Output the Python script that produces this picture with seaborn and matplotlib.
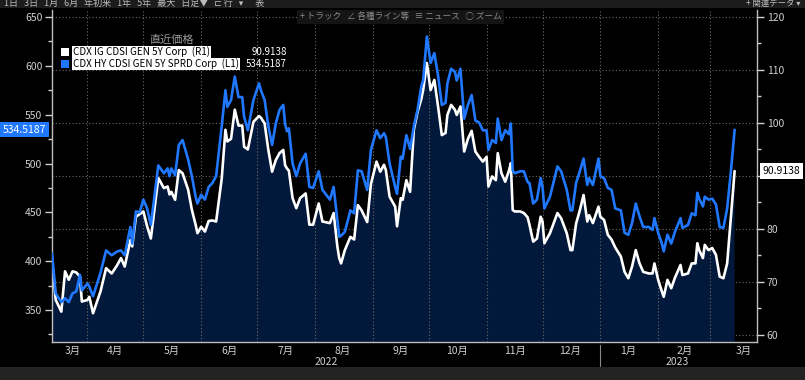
import matplotlib
matplotlib.use("Agg")
import matplotlib.pyplot as plt
import matplotlib.ticker as mticker
import matplotlib.transforms as mtrans
from matplotlib.patches import Rectangle
import pandas as pd
import seaborn as sns

# days counted from 2022-03-13
days = [0, 2, 5, 7, 9, 11, 13, 15, 16, 19, 20, 22, 26, 29, 32, 35, 37, 39, 42, 43,
        45, 47, 49, 51, 53, 57, 60, 62, 63, 64, 66, 68, 70, 73, 75, 77, 78, 80, 82, 84,
        86, 88, 91, 93, 94, 96, 98, 100, 102, 103, 105, 108, 111, 112, 114, 116, 118, 120, 122, 124,
        125, 126, 127, 129, 131, 133, 136, 138, 140, 143, 145, 149, 151, 153, 154, 155, 157, 160, 162, 164,
        166, 169, 171, 174, 176, 178, 179, 181, 184, 185, 187, 188, 190, 192, 194, 196, 198, 199, 201, 203,
        205, 207, 209, 211, 212, 214, 216, 217, 219, 221, 223, 225, 227, 229, 231, 233, 234, 236, 238, 239,
        241, 243, 245, 246, 247, 248, 251, 253, 255, 256, 258, 260, 262, 263, 264, 267, 271, 273, 276, 278,
        279, 281, 283, 285, 287, 288, 290, 293, 294, 296, 298, 300, 302, 305, 307, 309, 311, 313, 315, 317,
        320, 322, 323, 325, 327, 328, 330, 332, 334, 337, 338, 341, 343, 345, 346, 347, 349, 350, 352, 354,
        356, 358, 360, 362, 364, 366]

hy_spread = [408, 367, 358, 362, 358, 367, 369, 386, 370, 377, 374, 364, 388, 411, 406, 410, 411, 406, 435, 418,
             451, 450, 463, 454, 437, 498, 490, 495, 487, 495, 488, 519, 524, 504, 487, 466, 459, 468, 463, 476,
             480, 487, 538, 575, 558, 565, 589, 568, 568, 548, 534, 565, 582, 575, 565, 538, 519, 541, 555, 560,
             540, 533, 536, 500, 487, 500, 510, 476, 475, 492, 473, 463, 476, 442, 425, 426, 430, 452, 449, 493,
             492, 473, 514, 534, 526, 531, 527, 500, 476, 469, 507, 505, 529, 515, 538, 555, 579, 585, 630, 603,
             613, 590, 560, 562, 582, 597, 594, 585, 597, 546, 560, 570, 544, 542, 534, 534, 514, 524, 521, 546,
             524, 534, 530, 541, 493, 490, 492, 492, 481, 480, 459, 463, 485, 476, 454, 466, 497, 492, 473, 452,
             452, 480, 492, 505, 478, 485, 478, 505, 487, 485, 475, 473, 454, 452, 429, 427, 439, 459, 446, 435,
             435, 432, 444, 429, 418, 410, 427, 418, 430, 444, 434, 437, 449, 447, 470, 464, 456, 466, 463, 464,
             458, 435, 434, 454, 492, 534.5187]

ig_spread = [74.1, 66.6, 64.4, 72.0, 70.4, 72.0, 71.8, 71.0, 66.3, 66.6, 67.2, 64.1, 68.2, 72.6, 71.6, 73.2, 74.5, 72.9, 77.9, 76.7,
             82.3, 82.8, 83.3, 80.5, 78.2, 89.6, 87.7, 88.0, 86.5, 87.0, 85.5, 91.1, 90.5, 87.4, 83.6, 80.8, 79.2, 80.4, 79.5, 81.5,
             81.6, 81.4, 89.5, 98.7, 96.5, 97.0, 102.5, 99.5, 99.5, 95.5, 95.0, 100.2, 101.3, 101.0, 99.9, 94.9, 90.8, 93.0, 94.3, 94.9,
             92.0, 91.4, 91.0, 85.8, 83.9, 85.8, 86.7, 80.8, 80.8, 84.8, 81.4, 81.1, 83.0, 76.7, 74.5, 73.5, 76.0, 78.5, 78.0, 84.5,
             83.5, 81.3, 88.5, 92.7, 90.8, 92.1, 91.1, 86.1, 84.2, 80.5, 85.8, 85.5, 89.2, 87.0, 98.7, 102.1, 104.5, 106.2, 111.3, 106.2,
             108.1, 103.1, 97.7, 98.1, 101.5, 103.4, 102.5, 101.5, 103.1, 94.6, 97.0, 98.5, 94.6, 93.6, 92.7, 93.6, 88.0, 89.9, 89.2, 94.3,
             90.5, 88.9, 91.0, 92.4, 83.6, 83.3, 83.3, 83.0, 82.2, 80.8, 77.6, 78.2, 82.3, 81.4, 77.3, 79.2, 83.0, 82.0, 79.2, 76.0,
             76.0, 81.0, 83.5, 86.4, 81.4, 82.6, 81.1, 84.2, 82.3, 81.7, 78.9, 78.0, 76.5, 74.8, 71.9, 70.7, 72.9, 76.0, 73.5, 71.9,
             71.6, 71.6, 73.5, 70.4, 68.2, 67.2, 70.4, 68.8, 70.8, 73.2, 71.3, 71.6, 73.5, 73.5, 77.3, 76.0, 74.5, 77.0, 76.0, 76.4,
             75.1, 71.0, 70.7, 73.5, 82.3, 90.9138]

month_label_dates = ["2022-03-24", "2022-04-16", "2022-05-16", "2022-06-16", "2022-07-16", "2022-08-16",
                     "2022-09-16", "2022-10-16", "2022-11-16", "2022-12-16", "2023-01-16", "2023-02-15",
                     "2023-03-19"]
month_labels = ["3月", "4月", "5月", "6月", "7月", "8月", "9月", "10月", "11月", "12月", "1月", "2月", "3月"]
year_label_dates = ["2022-08-07", "2023-02-11"]
year_labels = ["2022", "2023"]
year_break = "2023-01-01"

ig_name = "CDX IG CDSI GEN 5Y Corp  (R1)"
hy_name = "CDX HY CDSI GEN 5Y SPRD Corp  (L1)"

sns.set_theme(style="dark")
plt.rcParams["font.family"] = ["Noto Sans CJK JP", "DejaVu Sans"]

BLUE = "#1f78ff"
NAVY = "#03193b"
GRID = "#6a6a6a"
TXT = "#cfcfcf"

df = pd.DataFrame({
    "date": pd.Timestamp("2022-03-13") + pd.to_timedelta(days, unit="D"),
    "hy": hy_spread,
    "ig": ig_spread,
})

W, H = 805, 380
fig = plt.figure(figsize=(W / 100, H / 100), dpi=100, facecolor="black")
ax = fig.add_axes([52 / W, 1 - 342 / H, (757 - 52) / W, (342 - 10) / H])
ax2 = ax.twinx()
ax.set_zorder(ax2.get_zorder() + 1)
ax.patch.set_visible(False)
ax2.patch.set_visible(True)
ax2.patch.set_facecolor("black")

# right axis: IG with filled area
ax2.fill_between(df["date"], df["ig"], 0, color=NAVY, lw=0, zorder=1)
for d in pd.date_range("2022-04-01", "2023-03-01", freq="MS"):
    ax2.axvline(d, color=GRID, ls=(0, (1, 2)), lw=0.8, zorder=1.5)
ax2.yaxis.set_major_locator(mticker.MultipleLocator(10))
ax2.yaxis.set_minor_locator(mticker.MultipleLocator(5))
ax2.grid(True, axis="y", which="major", color=GRID, ls=(0, (1, 2)), lw=0.8)
ax2.grid(False, axis="x")
sns.lineplot(data=df, x="date", y="ig", ax=ax2, color="white", lw=1.9, zorder=3)

# left axis: HY
sns.lineplot(data=df, x="date", y="hy", ax=ax, color=BLUE, lw=1.9, zorder=3)
ax.grid(False)

ax.set_xlim(pd.Timestamp("2022-03-13"), pd.Timestamp("2023-03-26"))
ax.set_ylim(317.2, 657.2)
ax2.set_ylim(58.67, 121.3)
for a in (ax, ax2):
    a.set_xlabel("")
    a.set_ylabel("")

ax.yaxis.set_major_locator(mticker.MultipleLocator(50))
ax.yaxis.set_minor_locator(mticker.MultipleLocator(25))
ax.tick_params(axis="y", which="major", colors=TXT, labelsize=7.5, length=5, width=1, pad=2)
ax.tick_params(axis="y", which="minor", colors=TXT, length=3, width=1)
ax2.tick_params(axis="y", which="major", colors=TXT, labelsize=7.5, length=5, width=1, pad=2)
ax2.tick_params(axis="y", which="minor", colors=TXT, length=3, width=1)
# the last-value tag sits over the "90" label, as in the terminal
ax2.yaxis.set_major_formatter(mticker.FuncFormatter(lambda v, p: "" if abs(v - 90) < 1e-6 else f"{v:.0f}"))

ax.set_xticks(pd.to_datetime(month_label_dates))
ax.set_xticklabels(month_labels)
ax.set_xticks(pd.date_range("2022-04-01", "2023-03-01", freq="MS"), minor=True)
ax.tick_params(axis="x", which="major", colors=TXT, labelsize=7.5, length=0, pad=3)
ax.tick_params(axis="x", which="minor", colors=TXT, length=4, width=1)

trans = mtrans.blended_transform_factory(ax.transData, ax.transAxes)
for d, lab in zip(pd.to_datetime(year_label_dates), year_labels):
    ax.text(d, -0.06, lab, transform=trans, ha="center", va="center", color=TXT, fontsize=7.5)
ax.plot([pd.Timestamp(year_break)] * 2, [-0.01, -0.072], transform=trans, color="#8a8a8a",
        lw=0.8, clip_on=False)

for a in (ax, ax2):
    for s in a.spines.values():
        s.set_visible(False)
ax.spines["left"].set_visible(True)
ax.spines["bottom"].set_visible(True)
ax2.spines["right"].set_visible(True)
for s in (ax.spines["left"], ax.spines["bottom"], ax2.spines["right"]):
    s.set_color("#bdbdbd")
    s.set_linewidth(1)

# last value tags
ax.annotate(f"{hy_spread[-1]:.4f}", xy=(0, hy_spread[-1]), xycoords=("axes fraction", "data"),
            xytext=(-4, 0), textcoords="offset points", ha="right", va="center", color="white",
            fontsize=7.5, annotation_clip=False,
            bbox=dict(boxstyle="square,pad=0.25", fc=BLUE, ec="none"))
ax2.annotate(f"{ig_spread[-1]:.4f}", xy=(1, ig_spread[-1]), xycoords=("axes fraction", "data"),
             xytext=(4, 0), textcoords="offset points", ha="left", va="center", color="black",
             fontsize=7.5, annotation_clip=False,
             bbox=dict(boxstyle="square,pad=0.25", fc="white", ec="none"))


def px(x, y):
    return x / W, 1 - y / H


# legend block
fig.text(*px(172, 40), "直近価格", ha="center", va="center", color="#9a9a9a", fontsize=8)
fig.patches.append(Rectangle(px(61, 56), 8 / W, 8 / H, transform=fig.transFigure, fc="white", ec="none"))
fig.patches.append(Rectangle(px(61, 68), 8 / W, 8 / H, transform=fig.transFigure, fc=BLUE, ec="none"))
fig.text(*px(73, 52), ig_name, ha="left", va="center", color="black", fontsize=7.1,
         bbox=dict(boxstyle="square,pad=0.1", fc="white", ec="none"))
fig.text(*px(73, 64), hy_name, ha="left", va="center", color="black", fontsize=7.1,
         bbox=dict(boxstyle="square,pad=0.1", fc="white", ec="none"))
fig.text(*px(287, 52), f"{ig_spread[-1]:.4f}", ha="right", va="center", color="white", fontsize=7)
fig.text(*px(287, 64), f"{hy_spread[-1]:.4f}", ha="right", va="center", color="white", fontsize=7)

# terminal toolbars
fig.patches.append(Rectangle((0, 1 - 8 / H), 1, 8 / H, transform=fig.transFigure, fc="#1c1c1c", ec="none"))
fig.text(*px(4, 3), "1日   3日   1月   6月   年初来   1年   5年   最大   日足▼   ⊏ 行   ▾      表",
         ha="left", va="center", color="#bcbcbc", fontsize=6.5)
fig.text(*px(800, 3), "+ 関連データ ▾", ha="right", va="center", color="#bcbcbc", fontsize=6)
fig.text(*px(300, 17), "+ トラック   ∠ 各種ライン等   ≡ ニュース   ○ ズーム", ha="left", va="center",
         color="#8c8c8c", fontsize=6.2, bbox=dict(boxstyle="square,pad=0.3", fc="#141414", ec="none"))
fig.patches.append(Rectangle((0, 0), 1, 13 / H, transform=fig.transFigure, fc="#232323", ec="none"))

fig.savefig("out.png", dpi=100, facecolor="black")
